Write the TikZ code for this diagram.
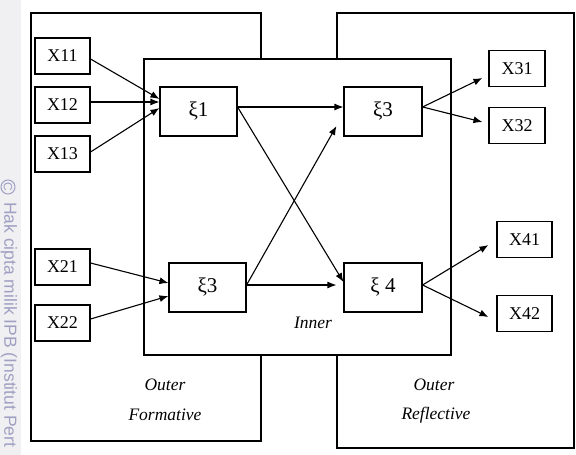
\documentclass[tikz,border=0pt]{standalone}
\usepackage{fontspec}
\setmainfont{Liberation Serif}
\newfontfamily\wmfont{Liberation Sans}
\usetikzlibrary{arrows.meta}
\definecolor{wmtext}{RGB}{160,160,195}
\definecolor{wmstrip}{RGB}{240,240,243}
\tikzset{
  box/.style={draw, line width=1.1pt, fill=white, inner sep=0pt, font=\fontsize{18}{20}\selectfont},
  ind/.style={box, minimum width=55pt, minimum height=36pt},
  lat/.style={box, minimum width=77pt, minimum height=49pt, font=\fontsize{21}{23}\selectfont},
  region/.style={draw, line width=1.1pt},
  lbl/.style={font=\itshape\fontsize{17.5}{19}\selectfont, inner sep=0pt},
  arr/.style={line width=1.1pt, -{Latex[length=9pt,width=7pt]}},
  wm/.style={text=wmtext, font=\wmfont\fontsize{17.5}{17.5}\selectfont, inner sep=0pt, rotate=-90}
}
\begin{document}
\begin{tikzpicture}[x=1pt,y=-1pt]
\useasboundingbox (0,0) rectangle (576,455);
\fill[wmstrip] (0,0) rectangle (21,455);
\node[wm, circle, draw=wmtext, line width=1pt, minimum size=14pt, font=\wmfont\fontsize{12}{12}\selectfont] (wmc) at (8,187) {C};
\node[wm, anchor=west] (wmt) at (9,202) {Hak cipta milik IPB (Institut Pert};
% outer regions
\draw[region] (31,13) rectangle (261,441);
\draw[region] (337,13) rectangle (574,448);
% inner region
\draw[region, fill=white] (144,59) rectangle (451,355);
% labels
\node[lbl] (o1) at (165,385) {Outer};
\node[lbl] (f1) at (165,415) {Formative};
\node[lbl] (o2) at (434,385) {Outer};
\node[lbl] (r2) at (436,415) {Reflective};
\node[lbl] (inn) at (313,323) {Inner};
% indicators
\node[ind] (x11) at (62.5,56) {X11};
\node[ind] (x12) at (62.5,105) {X12};
\node[ind] (x13) at (62.5,154) {X13};
\node[ind] (x21) at (62.5,267) {X21};
\node[ind] (x22) at (62.5,323) {X22};
\node[ind, minimum width=56pt] (x31) at (517,68.5) {X31};
\node[ind, minimum width=56pt] (x32) at (517,125.5) {X32};
\node[ind] (x41) at (524.5,239.5) {X41};
\node[ind] (x42) at (524.5,313.5) {X42};
% latent variables
\node[lat] (xi1) at (198.5,111.5) {ξ1};
\node[lat, minimum width=78pt] (xi3) at (383,111.5) {ξ3};
\node[lat] (xi3b) at (207.5,287.5) {ξ3};
\node[lat, minimum width=78pt] (xi4) at (383,287.5) {ξ 4};
% formative arrows
\draw[arr] ([yshift=-3pt]x11.east) -- ([yshift=12.5pt]xi1.west);
\draw[arr] ([yshift=3pt]x12.east) -- ([yshift=9.5pt]xi1.west);
\draw[arr] ([yshift=2pt]x13.east) -- ([yshift=3.5pt]xi1.west);
\draw[arr] ([yshift=4pt]x21.east) -- ([yshift=4.5pt]xi3b.west);
\draw[arr] ([yshift=4pt]x22.east) -- ([yshift=-8.5pt]xi3b.west);
% inner arrows
\draw[arr] ([yshift=4.5pt]xi1.east) -- ([yshift=4.5pt]xi3.west);
\draw[arr] ([yshift=4.5pt]xi1.east) -- ([yshift=5.5pt]xi4.west);
\draw[arr] ([yshift=2.5pt]xi3b.east) -- ([xshift=-7pt,yshift=-14.5pt]xi3.west);
\draw[arr] ([yshift=2.5pt]xi3b.east) -- ([xshift=-7pt,yshift=2.5pt]xi4.west);
% reflective arrows
\draw[arr] ([yshift=4.5pt]xi3.east) -- ([xshift=-6pt,yshift=-9.5pt]x31.west);
\draw[arr] ([yshift=4.5pt]xi3.east) -- ([xshift=-6pt,yshift=3.5pt]x32.west);
\draw[arr] ([yshift=2.5pt]xi4.east) -- ([xshift=-8pt,yshift=-5.5pt]x41.west);
\draw[arr] ([yshift=2.5pt]xi4.east) -- ([xshift=-8pt,yshift=-3.5pt]x42.west);
\end{tikzpicture}
\end{document}
